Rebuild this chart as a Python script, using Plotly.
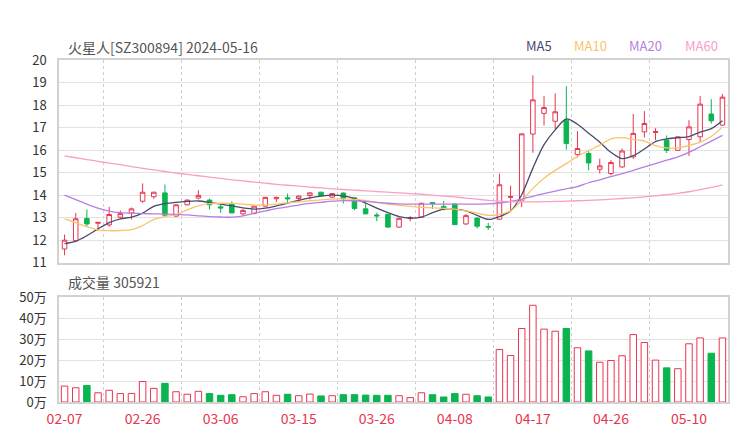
import plotly.graph_objects as go

# ---------------- data ----------------
dates = ["02-07","02-08","02-19","02-20","02-21","02-22","02-23","02-26","02-27","02-28",
         "02-29","03-01","03-04","03-05","03-06","03-07","03-08","03-11","03-12","03-13",
         "03-14","03-15","03-18","03-19","03-20","03-21","03-22","03-25","03-26","03-27",
         "03-28","03-29","04-01","04-02","04-03","04-08","04-09","04-10","04-11","04-12",
         "04-15","04-16","04-17","04-18","04-19","04-22","04-23","04-24","04-25","04-26",
         "04-29","04-30","05-06","05-07","05-08","05-09","05-10","05-13","05-14","05-16"]

open_ = [11.61,11.98,12.96,12.75,12.68,13.02,13.21,13.73,13.93,14.10,
         13.07,13.57,13.87,13.78,13.48,13.63,13.17,13.18,13.51,13.84,
         13.88,13.85,13.98,14.13,13.91,14.09,13.88,13.39,13.12,13.15,
         12.58,12.96,13.02,13.67,13.50,13.61,12.72,12.98,12.61,12.93,
         13.90,13.77,16.71,17.63,17.28,17.33,15.80,15.85,15.15,14.96,
         15.25,15.70,16.81,16.78,16.44,15.99,16.47,16.59,17.60,17.11]
high = [12.25,13.21,13.36,12.80,13.48,13.32,13.45,14.52,14.15,14.47,
        13.59,13.80,14.22,13.84,13.63,13.72,13.39,13.53,13.92,13.93,
        14.07,13.98,14.12,14.15,14.09,14.13,13.90,13.66,13.22,13.17,
        12.99,13.07,13.66,13.69,13.74,13.62,13.17,13.00,12.77,14.96,
        14.42,16.74,19.32,18.40,18.52,18.84,16.84,15.96,15.62,15.55,
        16.07,17.60,17.73,16.97,16.65,16.61,17.33,18.40,18.26,18.49]
low = [11.33,11.95,12.62,12.40,12.59,12.95,12.92,13.66,13.84,13.04,
       13.04,13.55,13.81,13.36,13.21,13.20,13.11,13.15,13.49,13.70,
       13.63,13.69,13.81,13.95,13.87,13.63,13.33,13.15,12.84,12.54,
       12.55,12.84,13.00,13.39,13.32,12.67,12.68,12.52,12.46,12.91,
       13.35,13.47,15.88,17.09,16.93,16.02,15.67,15.10,14.96,14.88,
       15.21,15.61,16.56,16.44,15.87,15.97,15.74,16.36,17.18,17.08]
close = [12.00,12.95,12.72,12.79,13.14,13.18,13.39,14.13,14.13,13.11,
         13.57,13.78,13.99,13.57,13.43,13.21,13.32,13.51,13.90,13.90,
         13.84,13.96,14.10,13.97,14.07,13.84,13.41,13.17,13.08,12.58,
         12.97,13.00,13.64,13.62,13.42,12.69,13.09,12.62,12.58,14.46,
         13.94,16.72,18.23,17.89,17.70,16.29,16.07,15.43,15.30,15.45,
         15.96,16.74,17.18,16.82,15.99,16.59,17.03,18.04,17.30,18.35]

volume = [76000,68000,79000,44000,56000,40000,41000,98000,65000,89000,
          49000,37000,51000,40000,32000,35000,25000,40000,49000,32000,
          37000,30000,38000,29000,30000,35000,35000,33000,32000,32000,
          30000,21000,44000,35000,24000,40000,37000,30000,24000,251000,
          222000,351000,462000,348000,338000,351000,259000,244000,190000,198000,
          221000,322000,284000,200000,163000,159000,278000,306000,233000,305921]

ma5 = [11.85,11.95,12.20,12.50,12.78,12.95,13.02,13.20,13.50,13.62,
       13.68,13.72,13.74,13.68,13.60,13.52,13.43,13.38,13.42,13.52,
       13.64,13.77,13.88,13.96,14.00,13.97,13.85,13.65,13.42,13.22,
       13.05,12.98,13.02,13.22,13.38,13.38,13.30,13.10,12.92,13.05,
       13.30,14.02,15.20,16.24,16.90,17.38,17.15,16.75,16.35,15.90,
       15.62,15.75,16.05,16.38,16.50,16.55,16.60,16.80,16.95,17.30]
ma10 = [12.95,12.78,12.60,12.45,12.42,12.43,12.47,12.65,12.92,13.05,
        13.12,13.35,13.52,13.62,13.64,13.63,13.60,13.56,13.56,13.60,
        13.66,13.70,13.75,13.79,13.82,13.83,13.81,13.76,13.68,13.60,
        13.55,13.50,13.46,13.43,13.41,13.38,13.30,13.20,13.10,13.15,
        13.30,13.75,14.30,14.75,15.10,15.40,15.72,15.98,16.22,16.50,
        16.55,16.48,16.40,16.20,16.10,16.10,16.20,16.35,16.60,17.03]
ma20 = [14.00,13.80,13.60,13.42,13.29,13.22,13.20,13.18,13.17,13.16,
        13.15,13.12,13.08,13.05,13.03,13.02,13.08,13.20,13.30,13.40,
        13.48,13.56,13.63,13.68,13.73,13.76,13.75,13.72,13.68,13.64,
        13.61,13.60,13.60,13.60,13.60,13.60,13.60,13.60,13.61,13.65,
        13.72,13.82,13.95,14.07,14.18,14.28,14.38,14.55,14.68,14.82,
        14.95,15.10,15.25,15.40,15.55,15.70,15.90,16.15,16.40,16.65]
ma60 = [15.74,15.66,15.58,15.50,15.42,15.35,15.27,15.19,15.12,15.05,
        14.98,14.92,14.86,14.80,14.74,14.68,14.63,14.58,14.53,14.48,
        14.44,14.40,14.36,14.32,14.28,14.25,14.22,14.19,14.16,14.13,
        14.10,14.07,14.04,14.00,13.96,13.92,13.87,13.82,13.77,13.73,
        13.71,13.70,13.70,13.71,13.72,13.73,13.75,13.77,13.79,13.82,
        13.85,13.88,13.92,13.97,14.02,14.08,14.15,14.24,14.34,14.46]

title_text = "火星人[SZ300894] 2024-05-16"
vol_title = "成交量 305921"
tick_idx = [0, 7, 14, 21, 28, 35, 42, 49, 56]
split_idx = [3.5, 10.5, 17.5, 24.5, 31.5, 38.5, 45.5, 52.5]
price_ticks = [11, 12, 13, 14, 15, 16, 17, 18, 19, 20]
vol_ticks = [0, 100000, 200000, 300000, 400000, 500000]
vol_tick_text = ["0万", "10万", "20万", "30万", "40万", "50万"]
ma_names = ["MA5", "MA10", "MA20", "MA60"]

# ---------------- style ----------------
RED = "#e8364f"
GREEN = "#0bb44f"
MA_COLORS = ["#4a4a6c", "#f9c46b", "#b67fe2", "#f99ec9"]
FONT = "Noto Sans CJK SC, Noto Sans, sans-serif"
GRID = "#e2e2e2"
AXLINE = "#d2d2d2"

x = list(range(len(close)))

fig = go.Figure()

fig.add_trace(go.Candlestick(
    x=x, open=open_, high=high, low=low, close=close,
    increasing=dict(line=dict(color=RED, width=1), fillcolor="white"),
    decreasing=dict(line=dict(color=GREEN, width=1), fillcolor=GREEN),
    whiskerwidth=0, showlegend=False, xaxis="x", yaxis="y"))

for name, vals, col in zip(ma_names, [ma5, ma10, ma20, ma60], MA_COLORS):
    fig.add_trace(go.Scatter(
        x=x, y=vals, mode="lines", name=name,
        line=dict(color=col, width=1.3, shape="spline", smoothing=0.8),
        showlegend=False, xaxis="x", yaxis="y"))

up = [c >= o for o, c in zip(open_, close)]
fig.add_trace(go.Bar(
    x=x, y=volume, width=0.58,
    marker=dict(color=["white" if u else GREEN for u in up],
                line=dict(color=[RED if u else GREEN for u in up], width=1)),
    showlegend=False, xaxis="x2", yaxis="y2"))

minor_grid = dict(tickmode="array", tickvals=split_idx, showgrid=True,
                  gridcolor="#cfcfcf", griddash="3px,3px", gridwidth=1, ticks="")

common_x = dict(range=[-0.5, len(close) - 0.5], showgrid=False, zeroline=False,
                showline=True, mirror=True, linecolor=AXLINE, linewidth=1.5,
                minor=minor_grid, fixedrange=True)

fig.update_layout(
    width=740, height=440,
    margin=dict(l=59, r=10, t=60, b=38),
    paper_bgcolor="white", plot_bgcolor="white",
    font=dict(family=FONT, color="#333333", size=13),
    boxgap=0.42,
    xaxis=dict(common_x, domain=[0, 1], anchor="y", showticklabels=False,
               rangeslider=dict(visible=False)),
    yaxis=dict(domain=[0.4073, 1], anchor="x", range=[11, 20], tickvals=price_ticks,
               showgrid=True, gridcolor=GRID, gridwidth=1, zeroline=False,
               showline=True, mirror=True, linecolor=AXLINE, linewidth=1.5,
               ticks="", ticklabelstandoff=8, tickfont=dict(size=13, color="#333333"),
               fixedrange=True),
    xaxis2=dict(common_x, domain=[0, 1], anchor="y2", tickvals=tick_idx,
                ticktext=[dates[i] for i in tick_idx], ticks="",
                ticklabelstandoff=3, tickfont=dict(size=14, color=RED)),
    yaxis2=dict(domain=[0, 0.3061], anchor="x2", range=[0, 500000], tickvals=vol_ticks,
                ticktext=vol_tick_text, showgrid=True, gridcolor=GRID, gridwidth=1,
                zeroline=False, showline=True, mirror=True, linecolor=AXLINE, linewidth=1.5,
                ticks="", ticklabelstandoff=8, tickfont=dict(size=13, color="#333333"),
                fixedrange=True),
    showlegend=False,
)

annotations = [
    dict(text=title_text, x=0.0104, y=1.038, xref="paper", yref="paper",
         xanchor="left", yanchor="middle", showarrow=False,
         font=dict(size=14, color="#555555", family=FONT)),
    dict(text=vol_title, x=0.0104, y=0.351, xref="paper", yref="paper",
         xanchor="left", yanchor="middle", showarrow=False,
         font=dict(size=14, color="#555555", family=FONT)),
]
legend_x = [540, 592, 647, 703]
for name, col, px in zip(ma_names, MA_COLORS, legend_x):
    annotations.append(dict(text=name, x=(px - 59) / 671, y=1.041, xref="paper",
                            yref="paper", xanchor="center", yanchor="middle",
                            showarrow=False, font=dict(size=13, color=col, family=FONT)))
fig.update_layout(annotations=annotations)

fig.write_html("out.html", config={"displayModeBar": False},
               post_script="document.body.style.margin='0px';document.body.style.overflow='hidden';")
